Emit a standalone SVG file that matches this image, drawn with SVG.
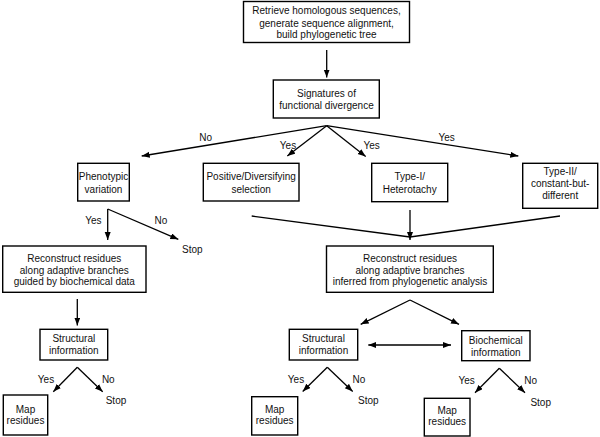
<svg xmlns="http://www.w3.org/2000/svg" width="600" height="437" viewBox="0 0 600 437">
<defs>
<marker id="ah" markerUnits="userSpaceOnUse" markerWidth="9" markerHeight="7" refX="8" refY="3" orient="auto-start-reverse"><path d="M0,0 L8,3 L0,6 z" fill="#000"/></marker>
<style>
rect{fill:#fff;stroke:#000;stroke-width:1.4}
text{font-family:"Liberation Sans",Arial,sans-serif;font-size:10px;fill:#111;text-anchor:middle}
.c line,.c polyline{stroke:#000;stroke-width:1.3;fill:none}
.a{marker-end:url(#ah)}
</style>
</defs>
<rect width="600" height="437" style="fill:#fff;stroke:none"/>
<g class="c" id="connectors">
<line class="a" x1="326.7" y1="50" x2="326.7" y2="77.5"/>
<line class="a" x1="326.7" y1="125.7" x2="141.7" y2="156"/>
<line class="a" x1="326.7" y1="125.7" x2="287.3" y2="156"/>
<line class="a" x1="326.7" y1="125.7" x2="365.7" y2="156.5"/>
<line class="a" x1="326.7" y1="125.7" x2="518.3" y2="156"/>
<line class="a" x1="107.7" y1="209" x2="107.7" y2="240"/>
<line class="a" x1="107.7" y1="209" x2="178.3" y2="239.3"/>
<line x1="251.7" y1="216" x2="410" y2="237"/>
<line x1="560" y1="216" x2="410" y2="237"/>
<line class="a" x1="410" y1="210" x2="410" y2="240"/>
<line class="a" x1="77.3" y1="299" x2="77.3" y2="325.5"/>
<line class="a" x1="77.3" y1="367.3" x2="53.3" y2="391.7"/>
<line class="a" x1="77.3" y1="367.3" x2="102.7" y2="391.7"/>
<line class="a" x1="410" y1="300" x2="360.7" y2="324.3"/>
<line class="a" x1="410" y1="300" x2="459" y2="324.3"/>
<line class="a" x1="368.3" y1="345" x2="451" y2="345" marker-start="url(#ah)"/>
<line class="a" x1="327.3" y1="367.3" x2="302.7" y2="391.5"/>
<line class="a" x1="327.3" y1="367.3" x2="352.7" y2="391.5"/>
<line class="a" x1="499.3" y1="368.3" x2="475" y2="392.7"/>
<line class="a" x1="499.3" y1="368.3" x2="525" y2="392.7"/>
</g>
<g id="labels">
<text x="205.7" y="140.8">No</text>
<text x="288" y="149.2">Yes</text>
<text x="371.7" y="149.2">Yes</text>
<text x="446.7" y="140.8">Yes</text>
<text x="93.3" y="223.5">Yes</text>
<text x="161" y="223.5">No</text>
<text x="192.3" y="252.8">Stop</text>
<text x="46" y="382.5">Yes</text>
<text x="108.3" y="382.5">No</text>
<text x="116" y="404.2">Stop</text>
<text x="296" y="382.5">Yes</text>
<text x="359" y="382.5">No</text>
<text x="368.3" y="404.2">Stop</text>
<text x="466.7" y="383.5">Yes</text>
<text x="530.7" y="383.5">No</text>
<text x="540.7" y="406.2">Stop</text>
</g>
<g id="n-retrieve"><rect x="243.5" y="1.5" width="166" height="41"/>
<text x="326.5" y="14.2">Retrieve homologous sequences,</text>
<text x="326.5" y="26.8">generate sequence alignment,</text>
<text x="326.5" y="38.2">build phylogenetic tree</text></g>
<g id="n-signatures"><rect x="273.3" y="80" width="106" height="38"/>
<text x="326.5" y="96.8">Signatures of</text>
<text x="326.5" y="108.8">functional divergence</text></g>
<g id="n-phenotypic"><rect x="77.7" y="163.3" width="51.6" height="37.7"/>
<text x="103.5" y="180.2">Phenotypic</text>
<text x="103.5" y="192.8">variation</text></g>
<g id="n-positive"><rect x="203.3" y="163.3" width="95.7" height="37.7"/>
<text x="251.2" y="180.2">Positive/Diversifying</text>
<text x="251.2" y="192.8">selection</text></g>
<g id="n-type1"><rect x="371.7" y="163.3" width="76" height="38.4"/>
<text x="409.7" y="180.2">Type-I/</text>
<text x="409.7" y="192.5">Heterotachy</text></g>
<g id="n-type2"><rect x="522.7" y="163.3" width="75" height="45"/>
<text x="560.2" y="175.2">Type-II/</text>
<text x="560.2" y="186.8">constant-but-</text>
<text x="560.2" y="198.5">different</text></g>
<g id="n-reconstruct-left"><rect x="2.7" y="246" width="143.3" height="46.3"/>
<text x="74.3" y="261.8">Reconstruct residues</text>
<text x="74.3" y="273.5">along adaptive branches</text>
<text x="74.3" y="285.2">guided by biochemical data</text></g>
<g id="n-reconstruct-right"><rect x="326.5" y="246" width="166.8" height="46.3"/>
<text x="410" y="261.8">Reconstruct residues</text>
<text x="410" y="273.5">along adaptive branches</text>
<text x="410" y="285.2">inferred from phylogenetic analysis</text></g>
<g id="n-structural-left"><rect x="40" y="329.3" width="67.7" height="30.7"/>
<text x="73.8" y="341.8">Structural</text>
<text x="73.8" y="353.8">information</text></g>
<g id="n-structural-mid"><rect x="289.3" y="329.3" width="68.4" height="30.7"/>
<text x="323.5" y="341.8">Structural</text>
<text x="323.5" y="353.8">information</text></g>
<g id="n-biochemical"><rect x="461.7" y="330.7" width="68.3" height="30"/>
<text x="495.8" y="344.2">Biochemical</text>
<text x="495.8" y="355.5">information</text></g>
<g id="n-map-left"><rect x="3.3" y="395" width="44.4" height="40"/>
<text x="25.5" y="412.5">Map</text>
<text x="25.5" y="424.2">residues</text></g>
<g id="n-map-mid"><rect x="251.7" y="396.7" width="46" height="38.3"/>
<text x="274.7" y="412.5">Map</text>
<text x="274.7" y="424.2">residues</text></g>
<g id="n-map-right"><rect x="424.3" y="398.3" width="45.7" height="37.7"/>
<text x="447.2" y="413.5">Map</text>
<text x="447.2" y="425.2">residues</text></g>
</svg>
